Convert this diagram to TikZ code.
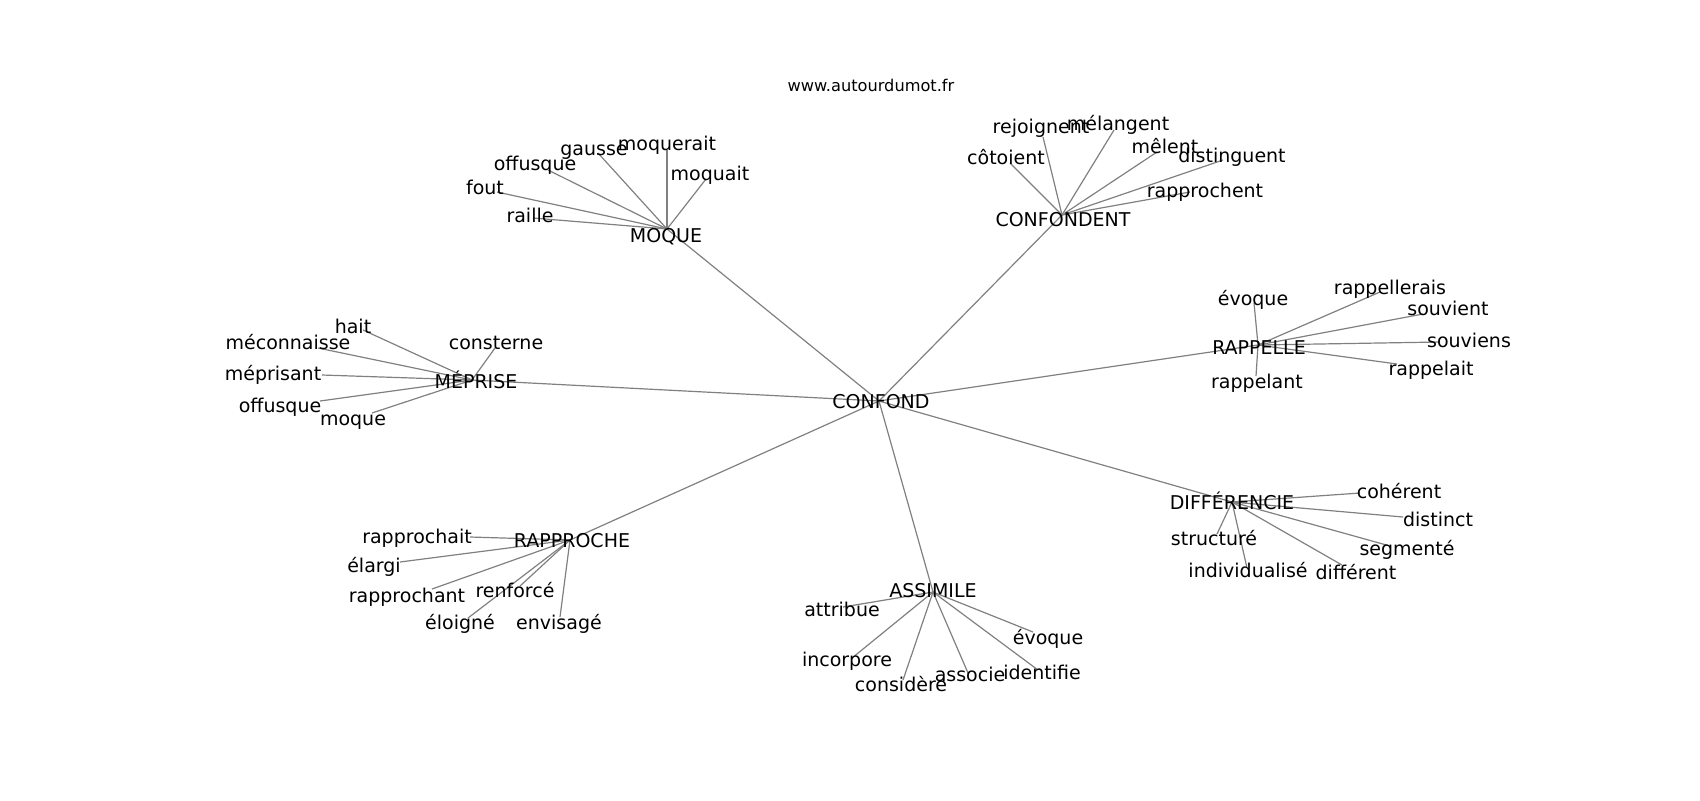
\documentclass[tikz,border=0pt]{standalone}
\usepackage{fontspec}
\setmainfont{DejaVu Sans}

\begin{document}
\begin{tikzpicture}[x=0.5pt,y=-0.5pt,
	mot/.style={anchor=mid,inner sep=0pt,yshift=-1pt,font=\fontsize{9.5}{11}\selectfont},
	lien/.style={draw=gray,line width=0.6pt}]
	\useasboundingbox (0,0) rectangle (1700,800);
	\node[mot,font=\fontsize{8.1}{10}\selectfont] (titre) at (871,84) {www.autourdumot.fr};
	% centres
	\coordinate (confond) at (879,401);
	\coordinate (moque) at (667,229);
	\coordinate (confondent) at (1062,215);
	\coordinate (rappelle) at (1258,345);
	\coordinate (meprise) at (472,380);
	\coordinate (rapproche) at (570,540);
	\coordinate (assimile) at (933,592);
	\coordinate (differencie) at (1232,502);
	% bouts des liens
	\coordinate (mo_1) at (598,153); \coordinate (mo_2) at (667,150);
	\coordinate (mo_3) at (548,170); \coordinate (mo_4) at (706,179);
	\coordinate (mo_5) at (497,192); \coordinate (mo_6) at (533,218);
	\coordinate (cf_1) at (1043,137); \coordinate (cf_2) at (1114,130);
	\coordinate (cf_3) at (1010,163); \coordinate (cf_4) at (1157,152);
	\coordinate (cf_5) at (1223,160); \coordinate (cf_6) at (1190,192);
	\coordinate (ra_1) at (1254,303); \coordinate (ra_2) at (1380,292);
	\coordinate (ra_3) at (1423,314); \coordinate (ra_4) at (1440,342);
	\coordinate (ra_5) at (1397,364); \coordinate (ra_6) at (1256,376);
	\coordinate (me_1) at (363,330); \coordinate (me_2) at (318,348);
	\coordinate (me_3) at (495,348); \coordinate (me_4) at (322,375);
	\coordinate (me_5) at (320,401); \coordinate (me_6) at (372,413);
	\coordinate (rp_1) at (470,537); \coordinate (rp_2) at (400,562);
	\coordinate (rp_3) at (432,589); \coordinate (rp_4) at (520,586);
	\coordinate (rp_5) at (468,618); \coordinate (rp_6) at (560,617);
	\coordinate (as_1) at (843,607); \coordinate (as_2) at (1033,632);
	\coordinate (as_3) at (852,658); \coordinate (as_4) at (903,680);
	\coordinate (as_5) at (968,673); \coordinate (as_6) at (1038,670);
	\coordinate (di_1) at (1360,493); \coordinate (di_2) at (1403,517);
	\coordinate (di_3) at (1217,534); \coordinate (di_4) at (1390,546);
	\coordinate (di_5) at (1247,568); \coordinate (di_6) at (1342,565);

	\path[lien]
	(confond) edge (moque) edge (confondent) edge (rappelle) edge (meprise)
	edge (rapproche) edge (assimile) edge (differencie)
	(moque) edge (mo_1) edge (mo_2) edge (mo_3) edge (mo_4) edge (mo_5) edge (mo_6)
	(confondent) edge (cf_1) edge (cf_2) edge (cf_3) edge (cf_4) edge (cf_5) edge (cf_6)
	(rappelle) edge (ra_1) edge (ra_2) edge (ra_3) edge (ra_4) edge (ra_5) edge (ra_6)
	(meprise) edge (me_1) edge (me_2) edge (me_3) edge (me_4) edge (me_5) edge (me_6)
	(rapproche) edge (rp_1) edge (rp_2) edge (rp_3) edge (rp_4) edge (rp_5) edge (rp_6)
	(assimile) edge (as_1) edge (as_2) edge (as_3) edge (as_4) edge (as_5) edge (as_6)
	(differencie) edge (di_1) edge (di_2) edge (di_3) edge (di_4) edge (di_5) edge (di_6);

	% mots
	\node[mot] (t_confond) at (881,401) {CONFOND};
	\node[mot] (t_moque) at (666,235) {MOQUE};
	\node[mot] (t_confondent) at (1063,219) {CONFONDENT};
	\node[mot] (t_rappelle) at (1259,347) {RAPPELLE};
	\node[mot] (t_meprise) at (476,381) {MÉPRISE};
	\node[mot] (t_rapproche) at (572,540) {RAPPROCHE};
	\node[mot] (t_assimile) at (933,590) {ASSIMILE};
	\node[mot] (t_differencie) at (1232,502) {DIFFÉRENCIE};

	\node[mot] (t_mo_1) at (594,148) {gausse};
	\node[mot] (t_mo_2) at (667,143) {moquerait};
	\node[mot] (t_mo_3) at (535,163) {offusque};
	\node[mot] (t_mo_4) at (710,173) {moquait};
	\node[mot] (t_mo_5) at (485,187) {fout};
	\node[mot] (t_mo_6) at (530,215) {raille};

	\node[mot] (t_cf_1) at (1041,126) {rejoignent};
	\node[mot] (t_cf_2) at (1118,123) {mélangent};
	\node[mot] (t_cf_3) at (1006,157) {côtoient};
	\node[mot] (t_cf_4) at (1165,146) {mêlent};
	\node[mot] (t_cf_5) at (1232,155) {distinguent};
	\node[mot] (t_cf_6) at (1205,190) {rapprochent};

	\node[mot] (t_ra_1) at (1253,298) {évoque};
	\node[mot] (t_ra_2) at (1390,287) {rappellerais};
	\node[mot] (t_ra_3) at (1448,308) {souvient};
	\node[mot] (t_ra_4) at (1469,340) {souviens};
	\node[mot] (t_ra_5) at (1431,368) {rappelait};
	\node[mot] (t_ra_6) at (1257,381) {rappelant};

	\node[mot] (t_me_1) at (353,326) {hait};
	\node[mot] (t_me_2) at (288,342) {méconnaisse};
	\node[mot] (t_me_3) at (496,342) {consterne};
	\node[mot] (t_me_4) at (273,373) {méprisant};
	\node[mot] (t_me_5) at (280,405) {offusque};
	\node[mot] (t_me_6) at (353,418) {moque};

	\node[mot] (t_rp_1) at (417,536) {rapprochait};
	\node[mot] (t_rp_2) at (374,565) {élargi};
	\node[mot] (t_rp_3) at (407,595) {rapprochant};
	\node[mot] (t_rp_4) at (515,590) {renforcé};
	\node[mot] (t_rp_5) at (460,622) {éloigné};
	\node[mot] (t_rp_6) at (559,622) {envisagé};

	\node[mot] (t_as_1) at (842,609) {attribue};
	\node[mot] (t_as_2) at (1048,637) {évoque};
	\node[mot] (t_as_3) at (847,659) {incorpore};
	\node[mot] (t_as_4) at (901,684) {considère};
	\node[mot] (t_as_5) at (970,674) {associe};
	\node[mot] (t_as_6) at (1042,672) {identifie};

	\node[mot] (t_di_1) at (1399,491) {cohérent};
	\node[mot] (t_di_2) at (1438,519) {distinct};
	\node[mot] (t_di_3) at (1214,538) {structuré};
	\node[mot] (t_di_4) at (1407,548) {segmenté};
	\node[mot] (t_di_5) at (1248,570) {individualisé};
	\node[mot] (t_di_6) at (1356,572) {différent};
\end{tikzpicture}
\end{document}
